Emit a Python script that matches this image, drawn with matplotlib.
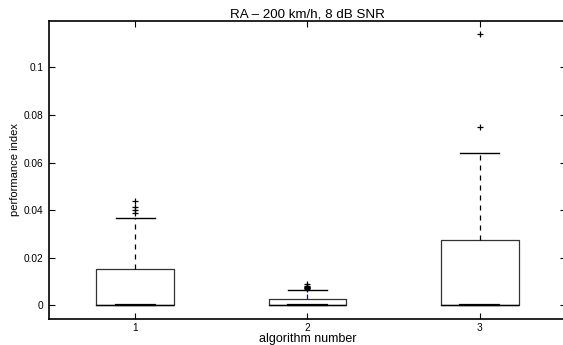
import matplotlib
matplotlib.use("Agg")
import matplotlib.pyplot as plt

plt.rcParams["font.family"] = ["Liberation Sans", "DejaVu Sans"]

# values
algorithms = [1, 2, 3]
q1 = [0.0, 0.0, 0.0]
medians = [0.0, 0.0, 0.0]
q3 = [0.0150, 0.0024, 0.0274]
whis_lo = [0.0, 0.0, 0.0]
whis_hi = [0.0365, 0.0063, 0.0640]
outliers = [
    [0.0438, 0.0413, 0.0400, 0.0386],
    [0.0087, 0.0081, 0.0078, 0.0075, 0.0073, 0.0071, 0.0069],
    [0.0751, 0.1142],
]
yticks = [0, 0.02, 0.04, 0.06, 0.08, 0.1]
ytick_labels = ["0", "0.02", "0.04", "0.06", "0.08", "0.1"]

stats = []
for i in range(len(algorithms)):
    stats.append({
        "med": medians[i], "q1": q1[i], "q3": q3[i],
        "whislo": whis_lo[i], "whishi": whis_hi[i],
        "fliers": outliers[i], "label": str(algorithms[i]),
    })

fig = plt.figure(figsize=(5.63, 3.45), dpi=100)
ax = fig.add_axes([0.087, 0.0745, 0.9183, 0.8655])

parts = ax.bxp(
    stats, positions=algorithms, widths=0.45, capwidths=0.225,
    boxprops=dict(color="#333333", linewidth=0.9),
    medianprops=dict(color="black", linewidth=1.0),
    whiskerprops=dict(color="black", linewidth=0.9, linestyle=(0, (4, 4))),
    capprops=dict(color="black", linewidth=1.0),
    flierprops=dict(marker="+", markeredgecolor="black", markersize=5,
                    markeredgewidth=0.9),
)
# lower caps sit on the box bottom, looks thicker there
for cap in parts["caps"][0::2]:
    cap.set_linewidth(1.6)
parts["whiskers"][3].set_color("blue")

ax.set_xlim(0.5, 3.5)
ax.set_ylim(-0.006, 0.1197)
ax.set_yticks(yticks)
ax.set_yticklabels(ytick_labels)
ax.tick_params(direction="in", length=4, width=0.8, labelsize=7.3,
               top=True, right=True)
ax.tick_params(axis="y", pad=4)
ax.tick_params(axis="x", pad=2.5)
for s in ax.spines.values():
    s.set_linewidth(1.2)

ax.set_title("RA \u2013 200 km/h, 8 dB SNR", fontsize=9.6, pad=2)
ax.set_xlabel("algorithm number", fontsize=9, labelpad=0)
ax.set_ylabel("performance index", fontsize=8, labelpad=3)

fig.savefig("out.png", dpi=100)
